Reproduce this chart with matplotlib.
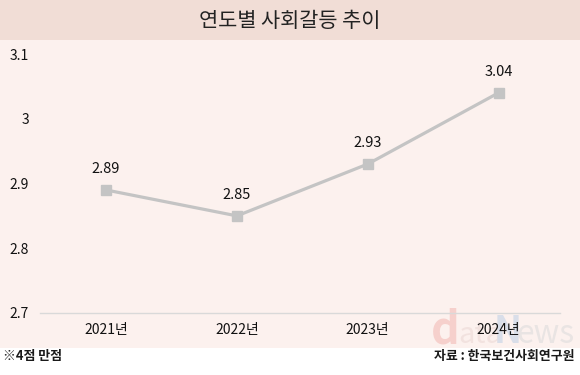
import matplotlib
matplotlib.use("Agg")
import matplotlib.pyplot as plt
from matplotlib.patches import Rectangle

plt.rcParams['font.family'] = ['Noto Sans CJK KR', 'DejaVu Sans']

years = ["2021년", "2022년", "2023년", "2024년"]
values = [2.89, 2.85, 2.93, 3.04]
yticks = [2.7, 2.8, 2.9, 3.0, 3.1]
ytick_labels = ["2.7", "2.8", "2.9", "3", "3.1"]
title = "연도별 사회갈등 추이"
note = "※4점 만점"
source = "자료 : 한국보건사회연구원"

W, H = 580, 375
fig = plt.figure(figsize=(W / 100, H / 100), dpi=100)
fig.patch.set_facecolor("white")

# background axes
bg = fig.add_axes([0, 0, 1, 1], zorder=0)
bg.set_xlim(0, W)
bg.set_ylim(H, 0)
bg.axis("off")
bg.add_patch(Rectangle((0, 0), W, 40, facecolor="#f1ddd6", edgecolor="none"))
bg.add_patch(Rectangle((0, 40), W, 308, facecolor="#fcf1ee", edgecolor="none"))
bg.text(W / 2, 21, title, ha="center", va="center", fontsize=15, color="#222222")

# watermark
bg.text(431, 343, "d", fontsize=32, fontweight="bold", color="#f6d0cc", ha="left", va="baseline")
bg.text(458, 343, "ata", fontsize=21, color="#f2e2df", ha="left", va="baseline")
bg.text(494, 343, "N", fontsize=27, fontweight="bold", color="#d9dee9", ha="left", va="baseline")
bg.text(516, 343, "ews", fontsize=23, color="#e9e4e3", ha="left", va="baseline")

bg.text(3, 356, note, ha="left", va="center", fontsize=9.3,
        fontweight="bold", color="#1a1a1a")
bg.text(575, 356, source, ha="right", va="center", fontsize=9.3,
        fontweight="bold", color="#1a1a1a")

ax = fig.add_axes([40 / W, (H - 313) / H, 520 / W, (313 - 54) / H], zorder=2)
ax.set_facecolor("none")
x = list(range(len(years)))
ax.plot(x, values, color="#c4c4c4", lw=2.3, marker="s", markersize=7.5,
        markerfacecolor="#c4c4c4", markeredgecolor="#c4c4c4", zorder=3)
for xi, v in zip(x, values):
    ax.annotate(f"{v:.2f}", (xi, v), xytext=(0, 10), textcoords="offset points",
                ha="center", va="bottom", fontsize=10.5, color="#111111")

ax.set_xlim(-0.505, 3.47)
ax.set_ylim(2.7, 3.1)
ax.set_yticks(yticks)
ax.set_yticklabels(ytick_labels)
ax.set_xticks(x)
ax.set_xticklabels(years)
ax.tick_params(axis="y", length=0, pad=8, labelsize=10, labelcolor="#111111")
ax.tick_params(axis="x", length=0, pad=7, labelsize=10, labelcolor="#111111")
for s in ["top", "right", "left"]:
    ax.spines[s].set_visible(False)
ax.spines["bottom"].set_color("#d9d9d9")
ax.spines["bottom"].set_linewidth(1.0)

fig.savefig("out.png", dpi=100, facecolor=fig.get_facecolor())
